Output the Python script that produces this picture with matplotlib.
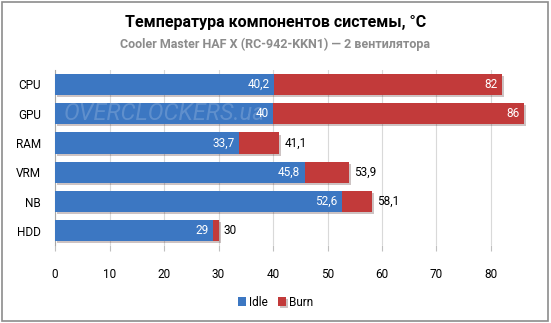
import numpy as np
import matplotlib
matplotlib.use("Agg")
import matplotlib.pyplot as plt
from matplotlib import patheffects as pe
from matplotlib.patches import Rectangle

plt.rcParams['font.family'] = ['Roboto', 'DejaVu Sans']

# данные
components = ["CPU", "GPU", "RAM", "VRM", "NB", "HDD"]
idle = [40.2, 40, 33.7, 45.8, 52.6, 29]
burn = [82, 86, 41.1, 53.9, 58.1, 30]
x_ticks = [0, 10, 20, 30, 40, 50, 60, 70, 80]

title = "Температура компонентов системы, °C"
subtitle = "Cooler Master HAF X (RC-942-KKN1) — 2 вентилятора"

blue = "#3C77C2"
red = "#C23A3A"

def fmt(v):
    s = f"{v:g}"
    return s.replace(".", ",")

fig = plt.figure(figsize=(5.51, 3.23), dpi=100)
ax = fig.add_axes([0.100, 0.240, 0.880, 0.544])

y = np.arange(len(components))
shadow = [pe.SimplePatchShadow(offset=(1.5, -1.5), alpha=0.25), pe.Normal()]

bars_burn = ax.barh(y, burn, height=0.72, color=red, zorder=2, path_effects=shadow)
bars_idle = ax.barh(y, idle, height=0.72, color=blue, zorder=3)

for i in range(len(components)):
    ax.text(idle[i] - 0.8, y[i], fmt(idle[i]), ha="right", va="center",
            color="white", fontsize=8.5, zorder=5)
    if burn[i] - idle[i] > 10:
        ax.text(burn[i] - 0.8, y[i], fmt(burn[i]), ha="right", va="center",
                color="white", fontsize=8.5, zorder=5)
    else:
        ax.text(burn[i] + 1.0, y[i], fmt(burn[i]), ha="left", va="center",
                color="black", fontsize=8.5, zorder=5)

# водяной знак
ax.text(1.5, 1, "OVERCLOCKERS.ua", ha="left", va="center", fontsize=17,
        style="italic", color="white", alpha=0.18, zorder=6)

ax.set_xlim(0, 89)
ax.set_ylim(len(components) - 0.5, -0.5)
ax.set_yticks(y)
ax.set_yticklabels(components, fontsize=8.5)
ax.set_xticks(x_ticks)
ax.set_xticklabels([str(t) for t in x_ticks], fontsize=8.5)
ax.tick_params(axis="y", length=0, pad=10)
ax.tick_params(axis="x", length=4, color="#BFBFBF", pad=12)
ax.grid(axis="x", color="#D9D9D9", linewidth=0.8, zorder=0)
ax.set_axisbelow(True)
for s in ["top", "right", "bottom"]:
    ax.spines[s].set_visible(False)
ax.spines["left"].set_color("#A6A6A6")

fig.text(0.5, 0.930, title, ha="center", va="center", fontsize=11.5,
         fontweight="bold", color="black")
fig.text(0.5, 0.862, subtitle, ha="center", va="center", fontsize=9,
         fontweight="bold", color="#8C8C8C")

fig.legend([bars_idle, bars_burn], ["Idle", "Burn"], loc="center",
           bbox_to_anchor=(0.5, 0.065), ncol=2, frameon=False, fontsize=8.5,
           handlelength=0.7, handleheight=0.7, handletextpad=0.3, columnspacing=0.8)

fig.patches.append(Rectangle((0.004, 0.006), 0.991, 0.988, transform=fig.transFigure,
                             fill=False, edgecolor="#8C8C8C", linewidth=1.2))

fig.savefig("out.png", dpi=100)
